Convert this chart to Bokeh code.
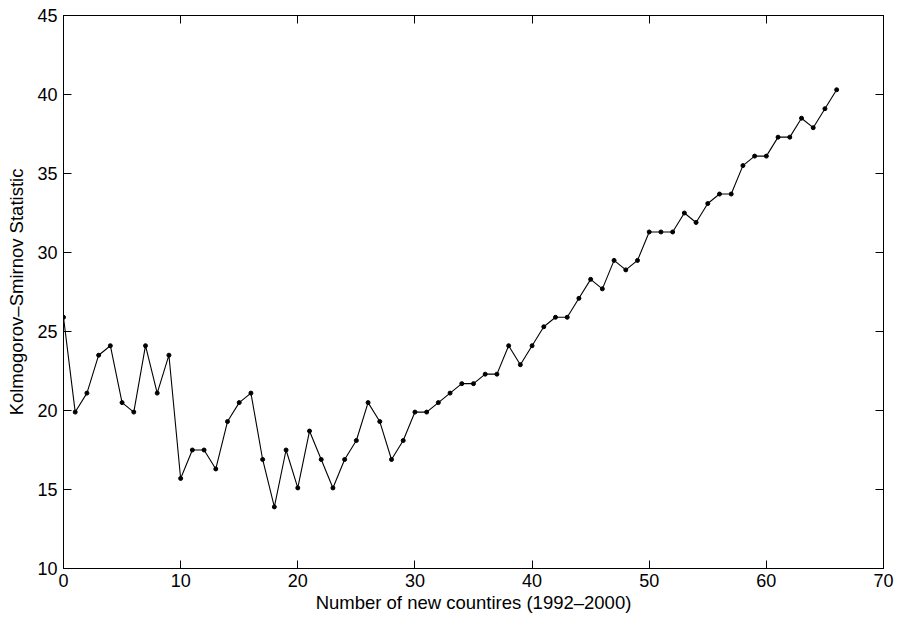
from bokeh.plotting import figure
from bokeh.models import Range1d, FixedTicker, LinearAxis
from bokeh.embed import file_html
from bokeh.resources import INLINE

# Data
x_vals = list(range(0, 67))
ks_stat = [25.9, 19.9, 21.1, 23.5, 24.1, 20.5, 19.9, 24.1, 21.1, 23.5,
           15.7, 17.5, 17.5, 16.3, 19.3, 20.5, 21.1, 16.9, 13.9, 17.5,
           15.1, 18.7, 16.9, 15.1, 16.9, 18.1, 20.5, 19.3, 16.9, 18.1,
           19.9, 19.9, 20.5, 21.1, 21.7, 21.7, 22.3, 22.3, 24.1, 22.9,
           24.1, 25.3, 25.9, 25.9, 27.1, 28.3, 27.7, 29.5, 28.9, 29.5,
           31.3, 31.3, 31.3, 32.5, 31.9, 33.1, 33.7, 33.7, 35.5, 36.1,
           36.1, 37.3, 37.3, 38.5, 37.9, 39.1, 40.3]
x_ticks = [0, 10, 20, 30, 40, 50, 60, 70]
y_ticks = [10, 15, 20, 25, 30, 35, 40, 45]
x_label = "Number of new countires (1992\u20132000)"
y_label = "Kolmogorov\u2013Smirnov Statistic"

FONT = "Liberation Sans"

p = figure(width=897, height=621, output_backend="svg", toolbar_location=None,
           x_range=Range1d(0, 70), y_range=Range1d(10, 45),
           min_border_left=63, min_border_right=14, min_border_top=15, min_border_bottom=53)

p.line(x_vals, ks_stat, line_color="black", line_width=1.1)
p.scatter(x_vals, ks_stat, size=4, color="black")

p.grid.visible = False
p.outline_line_color = "black"
p.outline_line_width = 1
p.background_fill_color = "white"
p.border_fill_color = "white"

for ax in (p.xaxis[0], p.yaxis[0]):
    ax.major_tick_in = 8
    ax.major_tick_out = 0
    ax.minor_tick_line_color = None
    ax.axis_line_color = "black"
    ax.major_label_text_font = FONT
    ax.major_label_text_font_size = "18px"
    ax.major_label_text_color = "black"
    ax.axis_label_text_font = FONT
    ax.axis_label_text_font_size = "18.5px"
    ax.axis_label_text_font_style = "normal"
    ax.axis_label_text_color = "black"

p.xaxis[0].ticker = FixedTicker(ticks=x_ticks)
p.yaxis[0].ticker = FixedTicker(ticks=y_ticks)
p.xaxis[0].axis_label = x_label
p.yaxis[0].axis_label = y_label
p.xaxis[0].major_label_standoff = 5
p.xaxis[0].axis_label_standoff = 2
p.yaxis[0].major_label_standoff = 6
p.yaxis[0].axis_label_standoff = 7

# Box-style frame: inward ticks on the top and right edges, no labels drawn there
top = LinearAxis(ticker=FixedTicker(ticks=x_ticks), major_tick_in=8, major_tick_out=0,
                 minor_tick_line_color=None, major_label_text_font_size="1px",
                 major_label_text_color=None, major_label_standoff=0)
right = LinearAxis(ticker=FixedTicker(ticks=y_ticks), major_tick_in=8, major_tick_out=0,
                   minor_tick_line_color=None, major_label_text_font_size="1px",
                   major_label_text_color=None, major_label_standoff=0)
p.add_layout(top, "above")
p.add_layout(right, "right")

open("out.html", "w").write(file_html(p, INLINE))
